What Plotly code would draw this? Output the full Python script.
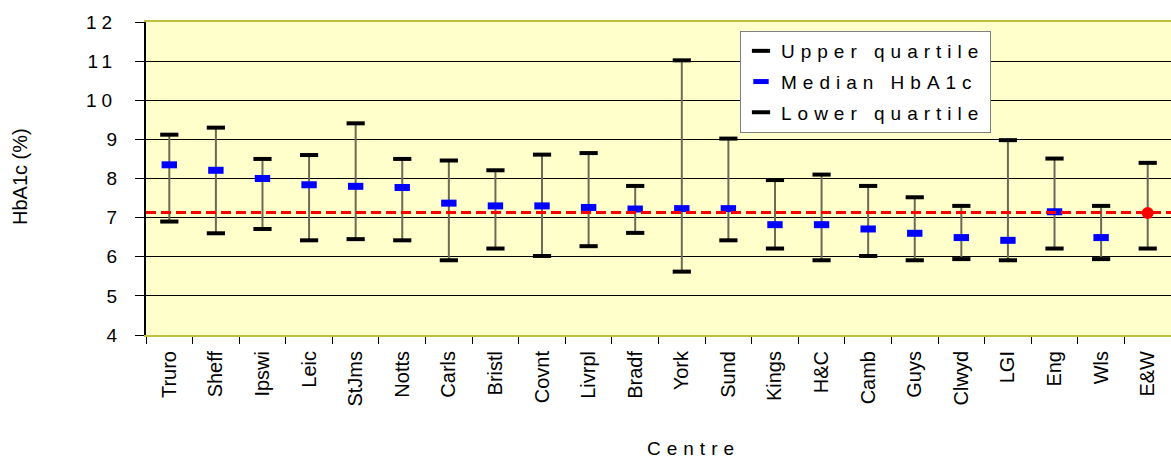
import plotly.graph_objects as go

centres = ["Truro", "Sheff", "Ipswi", "Leic", "StJms", "Notts", "Carls", "Bristl", "Covnt", "Livrpl",
           "Bradf", "York", "Sund", "Kings", "H&C", "Camb", "Guys", "Clwyd", "LGI", "Eng", "Wls", "E&W"]
upper = [9.12, 9.30, 8.50, 8.60, 9.41, 8.50, 8.46, 8.21, 8.61, 8.65, 7.81, 11.02, 9.02, 7.96, 8.10,
         7.81, 7.52, 7.30, 8.98, 8.51, 7.30, 8.40]
median = [8.35, 8.21, 8.00, 7.84, 7.80, 7.77, 7.37, 7.30, 7.30, 7.26, 7.22, 7.23, 7.23, 6.82, 6.82,
          6.71, 6.60, 6.49, 6.42, 7.15, 6.49, 7.12]
lower = [6.90, 6.60, 6.71, 6.42, 6.45, 6.42, 5.91, 6.21, 6.02, 6.27, 6.61, 5.62, 6.42, 6.21, 5.91,
         6.02, 5.91, 5.94, 5.91, 6.21, 5.94, 6.21]
reference_line = 7.13
y_ticks = [4, 5, 6, 7, 8, 9, 10, 11, 12]

FONT = "Liberation Sans, Arial, sans-serif"


def spaced(t, s):
    return f'<span style="letter-spacing:{s}px">{t}</span>'


# whiskers
wx, wy = [], []
for c, lo, hi in zip(centres, lower, upper):
    wx += [c, c, None]
    wy += [lo, hi, None]

fig = go.Figure()
fig.add_trace(go.Scatter(x=wx, y=wy, mode="lines", line=dict(color="#6b6b55", width=2),
                         showlegend=False, hoverinfo="skip"))
fig.add_trace(go.Scatter(x=centres, y=upper, mode="markers", name=spaced("Upper quartile", 6),
                         legendgroup="a",
                         marker=dict(symbol="line-ew", size=13, color="black",
                                     line=dict(color="black", width=4))))
fig.add_trace(go.Scatter(x=centres[:-1], y=median[:-1], mode="markers", name=spaced("Median HbA1c", 6),
                         legendgroup="b",
                         marker=dict(symbol="line-ew", size=11, color="#0000FF",
                                     line=dict(color="#0000FF", width=7))))
fig.add_trace(go.Scatter(x=centres, y=lower, mode="markers", name=spaced("Lower quartile", 6),
                         legendgroup="c",
                         marker=dict(symbol="line-ew", size=13, color="black",
                                     line=dict(color="black", width=4))))
fig.add_trace(go.Scatter(x=centres[-1:], y=median[-1:], mode="markers", showlegend=False,
                         marker=dict(symbol="circle", size=12, color="#FF0000",
                                     line=dict(width=0))))

fig.add_shape(type="line", xref="paper", yref="y", x0=0, x1=1, y0=reference_line, y1=reference_line,
              line=dict(color="#FF0000", width=3, dash="10px,5px"), layer="above")

fig.update_layout(
    width=1171, height=460,
    margin=dict(l=146, r=0, t=22, b=125),
    paper_bgcolor="white",
    plot_bgcolor="#FFFFCC",
    font=dict(family=FONT, color="black", size=19),
    legend=dict(x=(740 - 146) / 1025, y=(335 - 31) / 313, xanchor="left", yanchor="top",
                bgcolor="white", bordercolor="#808080", borderwidth=1,
                font=dict(size=19, family=FONT), traceorder="grouped", tracegroupgap=3,
                itemwidth=30),
    showlegend=True,
    xaxis=dict(type="category", categoryorder="array", categoryarray=centres,
               tickvals=centres, ticktext=centres,
               tickangle=-90, ticks="outside", tickson="boundaries", ticklen=7,
               tickcolor="black", tickwidth=1,
               showline=True, linecolor="#C0C040", linewidth=2, mirror=True,
               showgrid=False, tickfont=dict(size=20, family=FONT), ticklabelstandoff=6,
               range=[-0.5, len(centres) - 0.5]),
    yaxis=dict(range=[4, 12], tickvals=y_ticks,
               ticktext=[spaced(str(v), 5) if v >= 10 else str(v) for v in y_ticks],
               ticks="outside", ticklen=9, tickcolor="black", tickwidth=1,
               showline=True, linecolor="black", linewidth=2,
               showgrid=True, gridcolor="black", gridwidth=1, zeroline=False,
               tickfont=dict(size=19, family=FONT), ticklabelstandoff=14),
    annotations=[
        dict(text=spaced("Centre", 6), xref="paper", yref="paper",
             x=(693 - 146) / 1025, y=(335 - 448) / 313, showarrow=False,
             xanchor="center", yanchor="middle", font=dict(size=19, family=FONT)),
        dict(text="HbA1c (%)", xref="paper", yref="paper",
             x=(20 - 146) / 1025, y=(335 - 177) / 313, showarrow=False, textangle=-90,
             xanchor="center", yanchor="middle", font=dict(size=20, family=FONT)),
    ],
)

fig.write_html("out.html", config={"displayModeBar": False},
               post_script="document.body.style.margin='0';document.body.style.overflow='hidden';")
